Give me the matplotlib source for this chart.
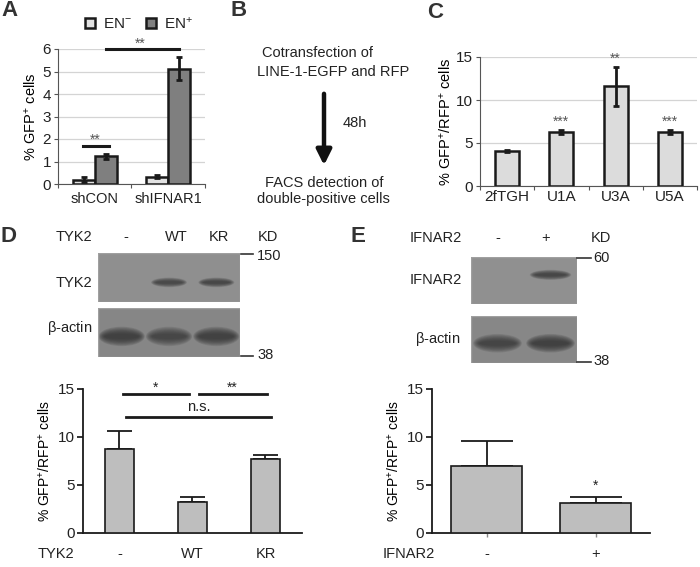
import matplotlib
matplotlib.use("Agg")
import matplotlib.pyplot as plt
from matplotlib.patches import Rectangle, Ellipse
import numpy as np

plt.rcParams['font.family'] = ['Liberation Sans', 'DejaVu Sans']
plt.rcParams['mathtext.fontset'] = 'custom'
plt.rcParams['mathtext.rm'] = 'Liberation Sans'
plt.rcParams['mathtext.default'] = 'regular'
plt.rcParams['font.size'] = 10
plt.rcParams['text.color'] = '#222222'
plt.rcParams['xtick.color'] = '#222222'
plt.rcParams['ytick.color'] = '#222222'

# --- data ---
# A
cats_a = ['shCON', 'shIFNAR1']
en_minus = [0.2, 0.33]
en_minus_err = [0.09, 0.06]
en_plus = [1.23, 5.13]
en_plus_err = [0.12, 0.51]
# C
cats_c = ['2fTGH', 'U1A', 'U3A', 'U5A']
vals_c = [4.1, 6.3, 11.6, 6.3]
err_c = [0.1, 0.2, 2.25, 0.22]
stars_c = ['', '***', '**', '***']
# D
cats_d = ['-', 'WT', 'KR']
vals_d = [8.75, 3.26, 7.74]
err_d = [1.85, 0.52, 0.39]
# E
cats_e = ['-', '+']
vals_e = [7.02, 3.1]
err_e = [2.55, 0.65]
# blot band strengths per lane
tyk2_bands = [0.0, 0.8, 0.85]
actin_d = [1.0, 0.8, 0.95]
ifnar2_bands = [0.0, 0.85]
actin_e = [0.85, 1.0]

W, H = 700, 567
fig = plt.figure(figsize=(7, 5.67), dpi=100)


def px_axes(x0, y0, x1, y1):
    return fig.add_axes([x0 / W, 1 - y1 / H, (x1 - x0) / W, (y1 - y0) / H])


def excel_style(ax, ymax, step):
    ax.set_ylim(0, ymax)
    ax.set_yticks(np.arange(0, ymax + 0.1, step))
    for s in ['top', 'right']:
        ax.spines[s].set_visible(False)
    ax.spines['left'].set_color('#555555')
    ax.spines['bottom'].set_color('#555555')
    ax.yaxis.grid(True, color='#d4d4d4', lw=0.9)
    ax.set_axisbelow(True)
    ax.tick_params(axis='y', length=3, color='#555555', labelsize=11, pad=2)
    ax.tick_params(axis='x', which='major', length=3, color='#555555', labelbottom=False)
    ax.tick_params(axis='x', which='minor', length=0, labelsize=10.5, pad=6)


# ---------------- A ----------------
axA = px_axes(58, 49, 205, 184)
xa = np.arange(len(cats_a))
bw = 0.3
axA.bar(xa - bw / 2, en_minus, bw, color='#e2e2e2', edgecolor='#1a1a1a', lw=1.8,
        yerr=en_minus_err, error_kw=dict(ecolor='#1a1a1a', elinewidth=2, capsize=2, capthick=2),
        label='EN$^{-}$', zorder=3)
axA.bar(xa + bw / 2, en_plus, bw, color='#7f7f7f', edgecolor='#1a1a1a', lw=1.8,
        yerr=en_plus_err, error_kw=dict(ecolor='#1a1a1a', elinewidth=2, capsize=2, capthick=2),
        label='EN$^{+}$', zorder=3)
axA.set_xlim(-0.5, 1.5)
excel_style(axA, 6, 1)
axA.set_xticks([-0.5, 0.5, 1.5])
axA.set_xticks(xa, minor=True)
axA.set_xticklabels(cats_a, minor=True)
axA.set_ylabel('% GFP$^{+}$ cells', fontsize=10.5, labelpad=3)
axA.plot([-0.16, 0.19], [1.7, 1.7], color='#1a1a1a', lw=2.2, clip_on=False)
axA.text(0.01, 1.95, '**', ha='center', va='center', color='#555555', fontsize=10)
axA.plot([0.15, 1.15], [5.98, 5.98], color='#1a1a1a', lw=2.2, clip_on=False, zorder=4)
axA.text(0.62, 6.22, '**', ha='center', va='center', color='#555555', fontsize=10)
axA.legend(loc='center', bbox_to_anchor=(0.55, 1.19), ncol=2, frameon=False,
           handlelength=0.7, handleheight=0.7, handletextpad=0.5, columnspacing=0.9,
           fontsize=11)

# ---------------- C ----------------
axC = px_axes(480, 57, 697, 186)
xc = np.arange(len(cats_c))
axC.bar(xc, vals_c, 0.44, color='#dcdcdc', edgecolor='#1a1a1a', lw=1.8,
        yerr=err_c, error_kw=dict(ecolor='#1a1a1a', elinewidth=2, capsize=2.5, capthick=2),
        zorder=3)
axC.set_xlim(-0.5, 3.5)
excel_style(axC, 15, 5)
axC.set_xticks(np.arange(-0.5, 4, 1))
axC.set_xticks(xc, minor=True)
axC.set_xticklabels(cats_c, minor=True, fontsize=11)
axC.tick_params(axis='x', which='minor', pad=3)
axC.set_ylabel('% GFP$^{+}$/RFP$^{+}$ cells', fontsize=10.5, labelpad=2)
for x, v, e, s in zip(xc, vals_c, err_c, stars_c):
    if s:
        axC.text(x, v + e + 1.0, s, ha='center', va='center', color='#555555', fontsize=10)


# ---------------- D / E bars ----------------
def prism_style(ax):
    ax.set_ylim(0, 15)
    ax.set_yticks([0, 5, 10, 15])
    for s in ['top', 'right']:
        ax.spines[s].set_visible(False)
    for s in ['left', 'bottom']:
        ax.spines[s].set_linewidth(1.3)
        ax.spines[s].set_color('#1a1a1a')
    ax.tick_params(axis='y', length=4, width=1.3, labelsize=11, pad=2)
    ax.set_ylabel('% GFP$^{+}$/RFP$^{+}$ cells', fontsize=10, labelpad=4)


axD = px_axes(83, 389, 302, 533)
xd = np.arange(len(cats_d))
axD.bar(xd, vals_d, 0.4, color='#bebebe', edgecolor='#1a1a1a', lw=1.2, zorder=3)
axD.errorbar(xd, vals_d, yerr=[np.zeros(len(err_d)), err_d], fmt='none', ecolor='#1a1a1a',
             elinewidth=1.3, capsize=9, capthick=1.3, zorder=2)
axD.set_xlim(-0.5, 2.5)
prism_style(axD)
axD.set_xticks(xd)
axD.set_xticklabels([''] * 3)
axD.tick_params(axis='x', length=0)
for x, c in zip(xd, cats_d):
    axD.text(x, -2.2, c, ha='center', va='center', fontsize=10.5)
axD.text(-0.62, -2.2, 'TYK2', ha='right', va='center', fontsize=10.5)
axD.plot([0.05, 0.95], [14.5, 14.5], color='#1a1a1a', lw=2, clip_on=False)
axD.text(0.5, 15.1, '*', ha='center', va='center', fontsize=10)
axD.plot([1.09, 2.02], [14.5, 14.5], color='#1a1a1a', lw=2, clip_on=False)
axD.text(1.55, 15.1, '**', ha='center', va='center', fontsize=10)
axD.plot([0.09, 2.08], [12.1, 12.1], color='#1a1a1a', lw=2, clip_on=False)
axD.text(1.08, 13.1, 'n.s.', ha='center', va='center', fontsize=10.5)

axE = px_axes(432, 389, 650, 533)
xe = np.arange(len(cats_e))
axE.bar(xe, vals_e, 0.66, color='#bebebe', edgecolor='#1a1a1a', lw=1.2, zorder=3)
axE.errorbar(xe, vals_e, yerr=[np.zeros(len(err_e)), err_e], fmt='none', ecolor='#1a1a1a',
             elinewidth=1.3, capsize=19, capthick=1.3, zorder=2)
axE.set_xlim(-0.5, 1.5)
prism_style(axE)
axE.set_xticks(xe)
axE.set_xticklabels([''] * 2)
axE.tick_params(axis='x', length=3, width=1, color='#888888')
for x, c in zip(xe, cats_e):
    axE.text(x, -2.2, c, ha='center', va='center', fontsize=10.5)
axE.text(-0.95, -2.2, 'IFNAR2', ha='left', va='center', fontsize=10.5, clip_on=False)
axE.text(1, vals_e[1] + err_e[1] + 1.2, '*', ha='center', va='center', fontsize=10)


# ---------------- blots ----------------
def blot(box, bands, bg, ypos=0.5, bh=0.28, bw=0.72):
    ax = px_axes(*box)
    n = len(bands)
    ax.set_xlim(0, n)
    ax.set_ylim(0, 1)
    ax.axis('off')
    ax.add_patch(Rectangle((0, 0), n, 1, color=bg, zorder=0))
    ax.add_patch(Rectangle((0, 0), n, 1, fill=False, ec='#a0a0a0', lw=1, zorder=3))
    # soft band: many faint stacked ellipses
    layers = 10
    for i, b in enumerate(bands):
        if b <= 0:
            continue
        for k in range(layers):
            f = 1.0 - k / layers
            ax.add_patch(Ellipse((i + 0.5, ypos), bw * (0.8 + 0.35 * f), bh * (0.3 + 1.5 * f),
                                 color='#333333', alpha=0.15 * b, lw=0, zorder=1))
    return ax


blot((98, 253, 240, 302), tyk2_bands, '#8f8f8f', ypos=0.4, bh=0.11, bw=0.66)
blot((98, 308, 240, 357), actin_d, '#868686', ypos=0.42, bh=0.22, bw=0.85)
blot((471, 257, 577, 304), ifnar2_bands, '#909090', ypos=0.62, bh=0.12, bw=0.68)
blot((471, 316, 577, 363), actin_e, '#878787', ypos=0.42, bh=0.22, bw=0.8)

# ---------------- overlay text ----------------
ov = px_axes(0, 0, W, H)
ov.set_xlim(0, W)
ov.set_ylim(H, 0)
ov.axis('off')

for lab, x, y in [('A', 1, 11), ('B', 230, 11), ('C', 427, 12), ('D', 0, 237), ('E', 351, 237)]:
    ov.text(x, y, lab, fontsize=16, fontweight='bold', color='#333333', ha='left', va='center')

# B scheme
ov.text(262, 53, 'Cotransfection of', fontsize=10.5, ha='left', va='center')
ov.text(257, 72, 'LINE-1-EGFP and RFP', fontsize=10.5, ha='left', va='center')
ov.annotate('', xy=(324, 168), xytext=(324, 91),
            arrowprops=dict(arrowstyle='-|>,head_width=0.45,head_length=0.9', lw=3.2, color='#111111'))
ov.text(343, 123, '48h', fontsize=10.5, ha='left', va='center')
ov.text(265, 183, 'FACS detection of', fontsize=10.5, ha='left', va='center')
ov.text(257, 199, 'double-positive cells', fontsize=10.5, ha='left', va='center')

# D blot labels
for t, x in [('TYK2', 74), ('-', 126), ('WT', 176), ('KR', 219), ('KD', 268)]:
    ov.text(x, 237, t, fontsize=10.5, ha='center', va='center')
ov.text(74, 283, 'TYK2', fontsize=10.5, ha='center', va='center')
ov.text(70, 328, '$\\beta$-actin', fontsize=10.5, ha='center', va='center')
ov.plot([241, 253], [254, 254], color='#333333', lw=1.2)
ov.text(257, 256, '150', fontsize=10.5, ha='left', va='center')
ov.plot([241, 253], [356, 356], color='#333333', lw=1.2)
ov.text(257, 355, '38', fontsize=10.5, ha='left', va='center')

# E blot labels
for t, x in [('IFNAR2', 436), ('-', 498), ('+', 546), ('KD', 601)]:
    ov.text(x, 238, t, fontsize=10.5, ha='center', va='center')
ov.text(436, 280, 'IFNAR2', fontsize=10.5, ha='center', va='center')
ov.text(438, 339, '$\\beta$-actin', fontsize=10.5, ha='center', va='center')
ov.plot([577, 591], [258, 258], color='#333333', lw=1.2)
ov.text(593, 258, '60', fontsize=10.5, ha='left', va='center')
ov.plot([577, 591], [362, 362], color='#333333', lw=1.2)
ov.text(593, 361, '38', fontsize=10.5, ha='left', va='center')

fig.savefig('out.png', dpi=100)
